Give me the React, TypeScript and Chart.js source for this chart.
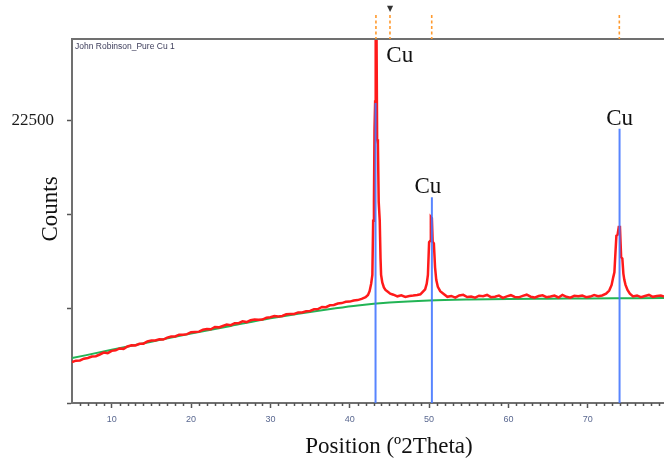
import React, { useEffect, useRef } from 'react';
import { Chart, registerables } from 'chart.js';

Chart.register(...registerables);

// Measured pattern (red): position (°2θ) and counts
const redPos = [
  5.0, 5.5, 6.0, 6.5, 7.0, 7.5, 8.0, 8.5, 9.0, 9.5, 10.0, 10.5, 11.0, 11.5, 12.0, 12.5, 13.0, 13.5, 14.0, 14.5,
  15.0, 15.5, 16.0, 16.5, 17.0, 17.5, 18.0, 18.5, 19.0, 19.5, 20.0, 20.5, 21.0, 21.5, 22.0, 22.5, 23.0, 23.5, 24.0, 24.5,
  25.0, 25.5, 26.0, 26.5, 27.0, 27.5, 28.0, 28.5, 29.0, 29.5, 30.0, 30.5, 31.0, 31.5, 32.0, 32.5, 33.0, 33.5, 34.0, 34.5,
  35.0, 35.5, 36.0, 36.5, 37.0, 37.5, 38.0, 38.5, 39.0, 39.5, 40.0, 40.5, 41.0, 41.5, 42.0, 42.3, 42.5, 42.7, 42.85, 42.95,
  43.05, 43.12, 43.2, 43.27, 43.36, 43.45, 43.55, 43.65, 43.78, 43.88, 43.95, 44.1, 44.3, 44.5, 44.8, 45.1, 45.5, 46.0, 46.5, 47.0,
  47.5, 48.0, 48.5, 48.9, 49.2, 49.5, 49.7, 49.85, 50.0, 50.12, 50.22, 50.35, 50.45, 50.6, 50.75, 50.9, 51.1, 51.4, 51.8, 52.3,
  52.8, 53.3, 53.8, 54.3, 54.8, 55.3, 55.8, 56.3, 56.8, 57.3, 57.8, 58.3, 58.8, 59.3, 59.8, 60.3, 60.8, 61.3, 61.8, 62.3,
  62.8, 63.3, 63.8, 64.3, 64.8, 65.3, 65.8, 66.3, 66.8, 67.3, 67.8, 68.3, 68.8, 69.3, 69.8, 70.3, 70.8, 71.3, 71.8, 72.3,
  72.7, 73.0, 73.2, 73.35, 73.45, 73.6, 73.75, 73.9, 74.05, 74.2, 74.35, 74.48, 74.6, 74.75, 75.0, 75.3, 75.7, 76.2, 76.7, 77.2,
  77.7, 78.2, 78.7, 79.2, 79.6,
];
const redCounts = [
  3250, 3370, 3390, 3530, 3580, 3700, 3720, 3860, 4010, 3970, 4150, 4190, 4340, 4310, 4500, 4590, 4580, 4710, 4720, 4900,
  4970, 4970, 5070, 5050, 5200, 5290, 5300, 5440, 5440, 5480, 5640, 5660, 5680, 5830, 5880, 5870, 6050, 6020, 6130, 6240,
  6190, 6340, 6350, 6500, 6440, 6580, 6640, 6630, 6640, 6790, 6820, 6920, 6880, 6930, 7060, 7080, 7090, 7210, 7210, 7300,
  7330, 7460, 7480, 7640, 7630, 7780, 7800, 7920, 7950, 8050, 8070, 8150, 8190, 8290, 8420, 8600, 8900, 9500, 10200, 14500,
  16000, 21700, 24000, 33000, 31000, 21000, 20600, 16000, 14500, 11500, 10200, 9600, 9200, 9000, 8850, 8700, 8620, 8490, 8570, 8440,
  8520, 8550, 8600, 8650, 8850, 9050, 9500, 10200, 12800, 12900, 14800, 14700, 12850, 12700, 10800, 9800, 9250, 8900, 8700, 8450,
  8520, 8390, 8560, 8610, 8430, 8470, 8380, 8540, 8500, 8600, 8420, 8460, 8550, 8370, 8490, 8580, 8440, 8410, 8530, 8620,
  8460, 8390, 8510, 8570, 8420, 8480, 8550, 8400, 8600, 8450, 8380, 8530, 8490, 8560, 8420, 8470, 8590, 8500, 8560, 8700,
  8950, 9400, 10000, 10400, 11600, 13300, 13400, 14000, 14000, 11600, 11500, 10300, 9800, 9400, 9000, 8700, 8480, 8560, 8430, 8520,
  8600, 8450, 8510, 8550, 8470,
];

// Background (green)
const bgPos = [5, 10, 15, 20, 25, 30, 35, 38, 41, 45, 50, 55, 60, 65, 70, 75, 79.6];
const bgCounts = [3570, 4230, 4880, 5520, 6130, 6740, 7250, 7520, 7760, 7990, 8160, 8240, 8280, 8300, 8320, 8340, 8360];

// Reference peak sticks (blue)
const stickPos = [43.25, 50.35, 74.0];
const stickCounts = [23870, 16375, 21825];

// Reference pattern markers above the plot (orange)
const markPos = [43.3, 45.07, 50.33, 73.97];
const flagPos = 45.07;

// Peak labels
const peakLabels = ['Cu', 'Cu', 'Cu'];
const peakLabelPos = [46.3, 49.85, 74.0];
const peakLabelCounts = [27100, 16700, 22100];

const xTicks = [10, 20, 30, 40, 50, 60, 70];
const xMinorTicks = [6, 7, 8, 9, 11, 12, 13, 14, 15, 16, 17, 18, 19, 21, 22, 23, 24, 25, 26, 27, 28, 29, 31, 32, 33, 34, 35, 36, 37, 38, 39,
  41, 42, 43, 44, 45, 46, 47, 48, 49, 51, 52, 53, 54, 55, 56, 57, 58, 59, 61, 62, 63, 64, 65, 66, 67, 68, 69, 71, 72, 73, 74, 75, 76, 77, 78, 79];
const yTicks = [0, 7500, 15000, 22500];
const yLabelled = [22500];

const xTitle = 'Position (º2Theta)';
const yTitle = 'Counts';
const sampleName = 'John Robinson_Pure Cu 1';

const decorPlugin = {
  id: 'decor',
  afterDraw(chart: any) {
    const { ctx, chartArea, scales } = chart;
    const x = scales.x;
    const y = scales.y;
    ctx.save();
    // top frame line
    ctx.strokeStyle = '#707070';
    ctx.lineWidth = 2;
    ctx.beginPath();
    ctx.moveTo(chartArea.left - 1, chartArea.top);
    ctx.lineTo(chartArea.right, chartArea.top);
    ctx.stroke();
    // minor x ticks
    ctx.strokeStyle = '#555';
    ctx.lineWidth = 1.5;
    xMinorTicks.forEach((v) => {
      const px = Math.round(x.getPixelForValue(v)) + 0.5;
      ctx.beginPath();
      ctx.moveTo(px, chartArea.bottom);
      ctx.lineTo(px, chartArea.bottom + 3);
      ctx.stroke();
    });
    // orange reference markers above plot
    ctx.strokeStyle = '#ff9a2e';
    ctx.lineWidth = 1.6;
    ctx.setLineDash([3, 2.5]);
    markPos.forEach((v) => {
      const px = x.getPixelForValue(v);
      ctx.beginPath();
      ctx.moveTo(px, chartArea.top - 24);
      ctx.lineTo(px, chartArea.top);
      ctx.stroke();
    });
    ctx.setLineDash([]);
    // small flag marker
    const fx = x.getPixelForValue(flagPos);
    ctx.fillStyle = '#333';
    ctx.font = '8px "DejaVu Sans"';
    ctx.textAlign = 'center';
    ctx.textBaseline = 'middle';
    ctx.fillText('▼', fx, 9);
    // sample name
    ctx.fillStyle = '#3c3c5a';
    ctx.font = '8.5px "Liberation Sans"';
    ctx.textAlign = 'left';
    ctx.textBaseline = 'middle';
    ctx.fillText(sampleName, chartArea.left + 3, chartArea.top + 8);
    // peak labels
    ctx.fillStyle = '#111';
    ctx.font = '23px "Liberation Serif"';
    ctx.textAlign = 'center';
    ctx.textBaseline = 'alphabetic';
    peakLabels.forEach((t, i) => {
      ctx.fillText(t, x.getPixelForValue(peakLabelPos[i]), y.getPixelForValue(peakLabelCounts[i]));
    });
    // axis titles
    ctx.font = '23px "Liberation Serif"';
    ctx.textAlign = 'center';
    ctx.textBaseline = 'alphabetic';
    ctx.fillText(xTitle, 389, 453);
    ctx.save();
    ctx.translate(57, 209);
    ctx.rotate(-Math.PI / 2);
    ctx.fillText(yTitle, 0, 0);
    ctx.restore();
    ctx.restore();
  },
};

export default function App() {
  const ref = useRef<HTMLCanvasElement | null>(null);
  useEffect(() => {
    if (!ref.current) return;
    const datasets: any[] = [];
    stickPos.forEach((p, i) => {
      datasets.push({
        type: 'scatter',
        data: [{ x: p, y: 0 }, { x: p, y: stickCounts[i] }],
        showLine: true,
        borderColor: 'rgba(70,120,255,0.9)',
        borderWidth: 2,
        pointRadius: 0,
      });
    });
    datasets.push({
      type: 'line',
      data: redPos.map((p, i) => ({ x: p, y: redCounts[i] })),
      borderColor: '#ff1a1a',
      borderWidth: 2.5,
      pointRadius: 0,
      tension: 0,
    });
    datasets.push({
      type: 'line',
      data: bgPos.map((p, i) => ({ x: p, y: bgCounts[i] })),
      borderColor: '#22b455',
      borderWidth: 2,
      pointRadius: 0,
      cubicInterpolationMode: 'monotone',
    });
    const chart = new Chart(ref.current, {
      type: 'line',
      data: { datasets },
      plugins: [decorPlugin],
      options: {
        animation: false,
        responsive: false,
        maintainAspectRatio: false,
        layout: { padding: { top: 39, left: 0, right: 0, bottom: 0 } },
        plugins: { legend: { display: false }, tooltip: { enabled: false }, title: { display: false } },
        scales: {
          x: {
            type: 'linear',
            min: 5,
            max: 79.6,
            afterFit: (s: any) => { s.height = 59; },
            afterBuildTicks: (s: any) => { s.ticks = xTicks.map((v) => ({ value: v })); },
            grid: { drawOnChartArea: false, drawTicks: true, tickLength: 5, tickWidth: 1.5, tickColor: '#555' },
            border: { display: true, color: '#707070', width: 2 },
            ticks: {
              font: { family: 'Liberation Sans', size: 9 },
              color: '#5a6890',
              padding: 6,
              maxRotation: 0,
              autoSkip: false,
            },
          },
          y: {
            type: 'linear',
            min: 0,
            max: 28970,
            afterFit: (s: any) => { s.width = 72; },
            afterBuildTicks: (s: any) => { s.ticks = yTicks.map((v) => ({ value: v })); },
            grid: { drawOnChartArea: false, drawTicks: true, tickLength: 5, tickWidth: 1.5, tickColor: '#555' },
            border: { display: true, color: '#707070', width: 2 },
            ticks: {
              callback: (v: any) => (yLabelled.includes(Number(v)) ? String(v) : ''),
              font: { family: 'Liberation Serif', size: 17 },
              color: '#1a1a1a',
              padding: 13,
            },
          },
        },
      },
    });
    return () => chart.destroy();
  }, []);
  return (
    <div style={{ position: 'absolute', left: 0, top: 0, width: 664, height: 462, background: '#fff' }}>
      <canvas ref={ref} width={664} height={462} style={{ display: 'block' }} />
    </div>
  );
}
